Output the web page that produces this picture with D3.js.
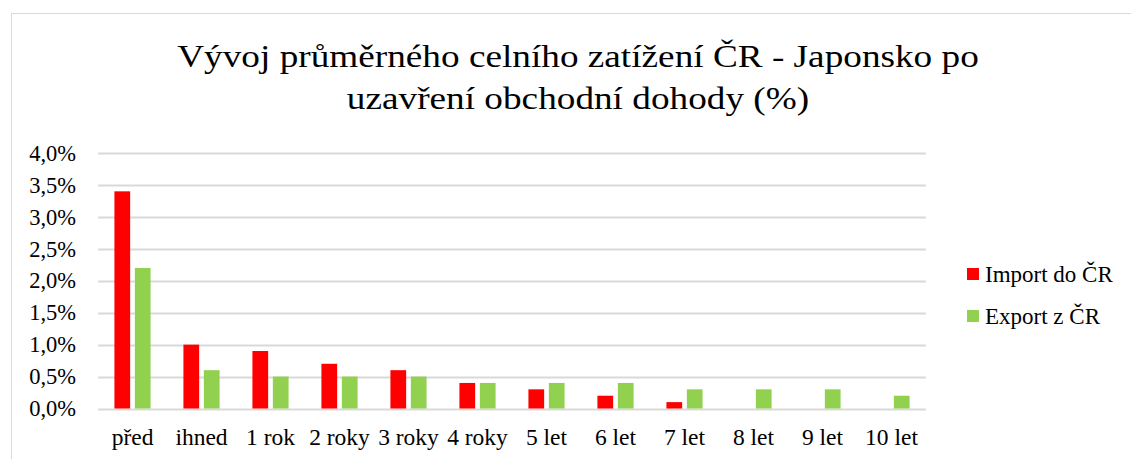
<!DOCTYPE html>
<html><head><meta charset="utf-8">
<script src="https://cdn.jsdelivr.net/npm/d3@7"></script>
<style>body{margin:0;background:#fff}svg{display:block}</style>
</head><body>
<svg id="c" width="1131" height="459"></svg>
<script>
const categories = ["před","ihned","1 rok","2 roky","3 roky","4 roky","5 let","6 let","7 let","8 let","9 let","10 let"];
const importVals = [3.4,1.0,0.9,0.7,0.6,0.4,0.3,0.2,0.1,0,0,0];
const exportVals = [2.2,0.6,0.5,0.5,0.5,0.4,0.4,0.4,0.3,0.3,0.3,0.2];
const seriesNames = ["Import do ČR","Export z ČR"];
const colors = ["#ff0000","#92d050"];
const yTicks = [0,0.5,1,1.5,2,2.5,3,3.5,4];
const titleLines = ["Vývoj průměrného celního zatížení ČR - Japonsko po","uzavření obchodní dohody (%)"];

const FF = "Liberation Serif";
const svg = d3.select("#c");
svg.append("rect").attr("x",11.5).attr("y",13.5).attr("width",1140).attr("height",470)
  .attr("fill","#fff").attr("stroke","#d9d9d9").attr("stroke-width",1);

const x0 = 98, x1 = 926, yTop = 153, yBot = 408.5;
const x = d3.scaleBand().domain(categories).range([x0,x1]).paddingInner(0).paddingOuter(0);
const y = d3.scaleLinear().domain([0,4]).range([yBot,yTop]);

const tcx = 578;
svg.append("g").attr("transform",`translate(${tcx},0) scale(1.164,1)`)
  .selectAll("text").data(titleLines).join("text")
  .attr("x",0).attr("y",(d,i)=>67+i*42).attr("text-anchor","middle")
  .attr("font-family",FF).attr("font-size",32).attr("fill","#000").text(d=>d);

const grid = svg.append("g");
grid.selectAll("line").data(yTicks).join("line")
  .attr("x1",x0).attr("x2",x1).attr("y1",d=>Math.round(y(d))+0.5).attr("y2",d=>Math.round(y(d))+0.5)
  .attr("stroke","#d9d9d9").attr("stroke-width",2);

const yAxis = d3.axisLeft(y).tickValues(yTicks).tickSize(0).tickPadding(0)
  .tickFormat(d=>d3.format(".1f")(d).replace(".",",")+"%");
const ya = svg.append("g").attr("transform",`translate(76,0)`).call(yAxis)
  .attr("font-family",FF).attr("font-size",22.5);
ya.select(".domain").remove();
ya.selectAll("text").attr("fill","#000");

const xAxis = d3.axisBottom(x).tickSize(0).tickPadding(0);
const xa = svg.append("g").attr("transform",`translate(0,428)`).call(xAxis)
  .attr("font-family",FF).attr("font-size",23.5);
xa.select(".domain").remove();
xa.selectAll("text").attr("fill","#000");

const bw = x.bandwidth();
const barW = bw*0.228, gap = bw*0.068;
const series = [importVals, exportVals];
series.forEach((vals,si)=>{
  svg.append("g").selectAll("rect").data(vals.map((v,i)=>({c:categories[i],v}))).join("rect")
    .attr("x",d=>x(d.c)+bw/2 - gap/2 - barW + si*(barW+gap))
    .attr("width",barW)
    .attr("y",d=>y(d.v)).attr("height",d=>yBot-y(d.v))
    .attr("fill",colors[si]);
});

const leg = svg.append("g");
seriesNames.forEach((n,i)=>{
  leg.append("rect").attr("x",967).attr("y",268+i*42).attr("width",12).attr("height",12).attr("fill",colors[i]);
  leg.append("text").attr("x",985).attr("y",282+i*42).attr("font-family",FF).attr("font-size",23).attr("fill","#000").text(n);
});
</script>
</body></html>
